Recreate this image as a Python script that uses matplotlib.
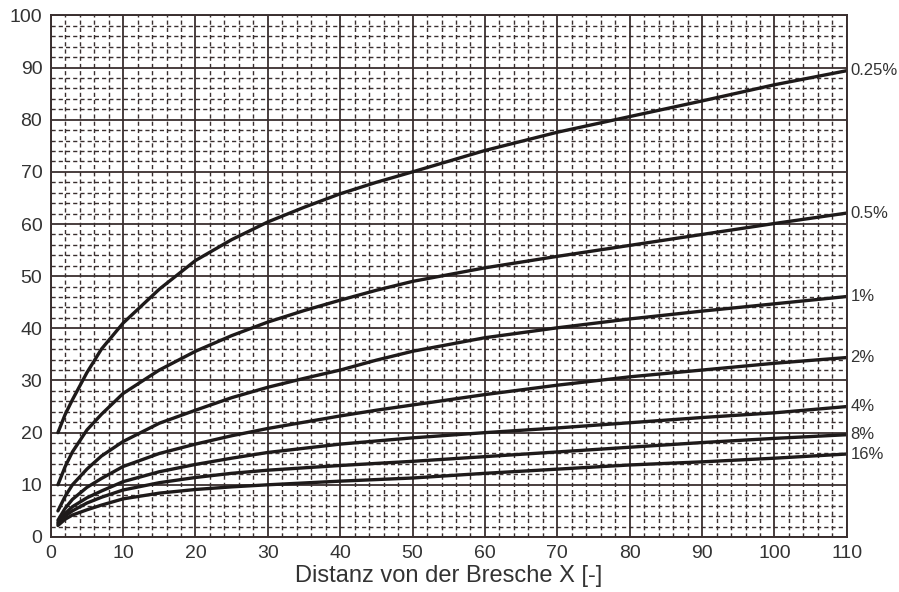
import matplotlib
matplotlib.use("Agg")
import matplotlib.pyplot as plt
from matplotlib.ticker import MultipleLocator

plt.rcParams['font.family'] = ['Liberation Sans', 'DejaVu Sans']

# distance from the breach
x = [1, 2, 3, 5, 7, 10, 15, 20, 25, 30, 35, 40, 45, 50, 60, 70, 80, 90, 100, 110]

# one curve per slope
y_025 = [20, 23.5, 26.3, 31.5, 36, 41, 47.5, 53.0, 57.0, 60.4, 63.2, 65.8, 68.0, 70.0, 74.1, 77.6, 80.6, 83.6, 86.7, 89.4]
y_05 = [10, 13.5, 16.3, 20.5, 23.5, 27.5, 32, 35.6, 38.6, 41.2, 43.4, 45.4, 47.3, 49.0, 51.6, 53.8, 55.9, 58.0, 60.1, 62.1]
y_1 = [5, 7.8, 10, 13, 15.5, 18.3, 21.8, 24.3, 26.7, 28.7, 30.4, 32.0, 33.9, 35.6, 38.2, 40.1, 41.8, 43.3, 44.7, 46.1]
y_2 = [3.2, 5.5, 7.2, 9.5, 11.2, 13.5, 16, 17.8, 19.4, 20.8, 22.0, 23.2, 24.3, 25.3, 27.3, 29.1, 30.7, 32.0, 33.3, 34.4]
y_4 = [2.8, 4.5, 5.8, 7.5, 8.8, 10.6, 12.5, 13.9, 15.1, 16.2, 17.0, 17.8, 18.4, 19.0, 20.0, 20.9, 21.9, 22.9, 23.8, 25.0]
y_8 = [2.5, 4, 5, 6.5, 7.6, 9, 10.4, 11.4, 12.2, 12.8, 13.25, 13.7, 14.1, 14.5, 15.4, 16.3, 17.2, 18.1, 18.9, 19.6]
y_16 = [2.2, 3.4, 4.2, 5.2, 6.1, 7.3, 8.4, 9.1, 9.6, 10.0, 10.35, 10.7, 11.0, 11.3, 12.2, 13.0, 13.8, 14.4, 15.1, 15.9]

series = [y_025, y_05, y_1, y_2, y_4, y_8, y_16]
labels = ['0.25%', '0.5%', '1%', '2%', '4%', '8%', '16%']

grid_col = '#3a2f2f'
line_col = '#1e1a1a'
text_col = '#333333'

fig = plt.figure(figsize=(8.99, 5.92), dpi=100)
ax = fig.add_axes([0.0564, 0.093, 0.8856, 0.881])

ax.set_xlim(0, 110)
ax.set_ylim(0, 100)
ax.xaxis.set_major_locator(MultipleLocator(10))
ax.yaxis.set_major_locator(MultipleLocator(10))
ax.xaxis.set_minor_locator(MultipleLocator(2))
ax.yaxis.set_minor_locator(MultipleLocator(2))

ax.grid(which='major', color=grid_col, linewidth=1.3, linestyle='-')
ax.grid(which='minor', color=grid_col, linewidth=1.0, linestyle=(0, (3, 2.2)))
ax.set_axisbelow(True)

for s in ax.spines.values():
    s.set_color(grid_col)
    s.set_linewidth(1.4)

ax.tick_params(which='both', length=0, labelsize=14, colors=text_col, pad=6)

for ys, lab in zip(series, labels):
    ax.plot(x, ys, color=line_col, linewidth=2.4, solid_capstyle='round')
    ax.annotate(lab, xy=(x[-1], ys[-1]), xytext=(2.5, 0), textcoords='offset points',
                va='center', ha='left', fontsize=12, color=text_col,
                annotation_clip=False)

ax.set_xlabel('Distanz von der Bresche X [-]', fontsize=17, color=text_col, labelpad=2)

fig.savefig('out.png', dpi=100)
